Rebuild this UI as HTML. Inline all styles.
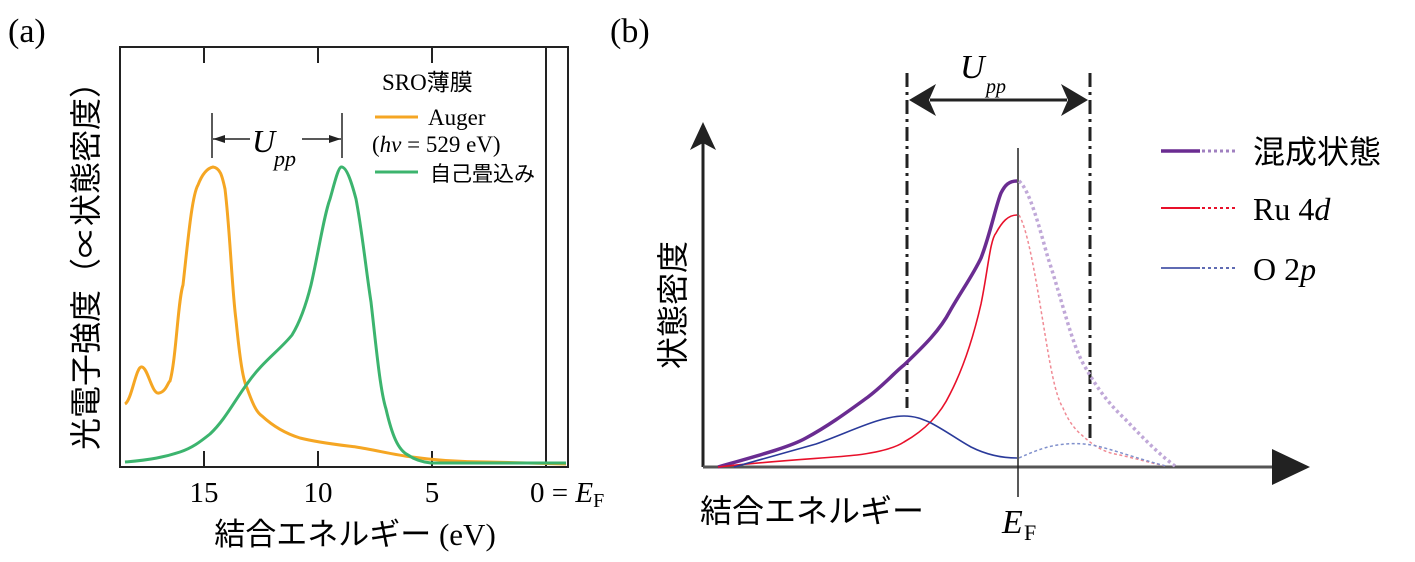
<!DOCTYPE html>
<html><head><meta charset="utf-8"><style>
body{margin:0;background:#fff;}
svg{display:block;font-family:"Liberation Serif","Noto Serif CJK SC",serif;}
.jp{font-family:"Liberation Sans","Noto Sans CJK JP",sans-serif;}
</style></head><body>
<svg width="1415" height="562" viewBox="0 0 1415 562" xmlns="http://www.w3.org/2000/svg">
<defs>
<marker id="ah" markerWidth="12" markerHeight="8" refX="12" refY="4" orient="auto" markerUnits="userSpaceOnUse"><path d="M0,0 L12,4 L0,8 z" fill="#222"/></marker>
</defs>
<!-- Panel a -->
<text x="8" y="42" font-size="34">(a)</text>
<rect x="120" y="47" width="448" height="420" fill="none" stroke="#222" stroke-width="2"/>
<g stroke="#222" stroke-width="2">
<line x1="204" y1="47" x2="204" y2="63"/><line x1="204" y1="451" x2="204" y2="467"/>
<line x1="318" y1="47" x2="318" y2="63"/><line x1="318" y1="451" x2="318" y2="467"/>
<line x1="432" y1="47" x2="432" y2="63"/><line x1="432" y1="451" x2="432" y2="467"/>
<line x1="546" y1="47" x2="546" y2="467"/>
</g>
<g font-size="29" text-anchor="middle">
<text x="204" y="502">15</text><text x="318" y="502">10</text><text x="432" y="502">5</text>
</g>
<text x="530" y="502" font-size="29">0 = <tspan font-style="italic">E</tspan><tspan font-size="20" dy="5">F</tspan></text>
<text x="355" y="545" font-size="31" text-anchor="middle"><tspan class="jp">結合エネルギー</tspan> (eV)</text>
<text class="jp" transform="translate(97,258) rotate(-90)" font-size="32" text-anchor="middle">光電子強度（∝状態密度）</text>
<path d="M125,404 C132,400 136,365 142,367 C148,368 152,395 159,393 C166,392 168,382 170,381 C176,360 178,300 183,285 C188,240 192,195 198,185 C203,172 208,168 213,167 C220,168 222,175 225,189 C230,230 232,290 236,320 C240,360 243,380 247,388 C252,402 256,412 262,416 C275,428 287,434 300,438 C320,443 340,445 356,447 C375,450 395,455 412,457 C440,461 465,462 487,462 L566,464" fill="none" stroke="#f5a623" stroke-width="3"/>
<path d="M125,462 C150,460 165,457 180,452 C192,448 200,442 210,434 C225,420 235,400 247,384 C262,362 280,350 292,335 C300,322 306,305 311,285 C318,255 324,215 330,199 C334,185 338,168 341,167 C346,166 351,180 356,199 C362,230 366,270 371,302 C376,345 380,390 386,409 C392,435 398,450 408,455 C415,460 422,462 431,463 L566,463" fill="none" stroke="#3cb46e" stroke-width="3"/>
<g stroke="#222" stroke-width="1.5">
<line x1="212" y1="113" x2="212" y2="158"/><line x1="342" y1="113" x2="342" y2="158"/>
<line x1="250" y1="139" x2="213" y2="139" marker-end="url(#ah)"/>
<line x1="302" y1="139" x2="341" y2="139" marker-end="url(#ah)"/>
</g>
<text x="252" y="152" font-size="32" font-style="italic">U</text><text x="274" y="166" font-size="22" font-style="italic">pp</text>
<text x="382" y="90" font-size="23"><tspan>SRO</tspan><tspan class="jp">薄膜</tspan></text>
<line x1="375" y1="117" x2="418" y2="117" stroke="#f5a623" stroke-width="3"/>
<text x="428" y="125" font-size="23">Auger</text>
<text x="372" y="152" font-size="23">(<tspan font-style="italic">hν</tspan> = 529 eV)</text>
<line x1="375" y1="172" x2="418" y2="172" stroke="#3cb46e" stroke-width="3"/>
<text class="jp" x="430" y="181" font-size="21">自己畳込み</text>
<!-- Panel b -->
<text x="610" y="42" font-size="34">(b)</text>
<line x1="703" y1="467" x2="703" y2="140" stroke="#222" stroke-width="3"/>
<path d="M703,122 L690,150 L703,143 L716,150 z" fill="#222"/>
<line x1="703" y1="467" x2="1285" y2="467" stroke="#555" stroke-width="3"/>
<path d="M1310,467 L1272,449 L1272,485 z" fill="#222"/>
<line x1="1018" y1="148" x2="1018" y2="497" stroke="#222" stroke-width="1.5"/>
<g stroke="#222" stroke-width="3" stroke-dasharray="14,5,3,5">
<line x1="907" y1="73" x2="907" y2="408"/><line x1="1090" y1="73" x2="1090" y2="440"/>
</g>
<line x1="930" y1="100" x2="1067" y2="100" stroke="#222" stroke-width="3"/>
<path d="M909,100 L936,84 L929,100 L936,116 z" fill="#222"/>
<path d="M1088,100 L1061,84 L1068,100 L1061,116 z" fill="#222"/>
<text x="960" y="78" font-size="34" font-style="italic">U</text><text x="986" y="93" font-size="20" font-style="italic">pp</text>
<path d="M718,467 C760,455 790,447 806,438 C830,425 850,410 868,397 C885,384 895,372 904,365 C925,345 940,330 950,311 C962,290 973,275 981,258 C990,235 996,205 1001,193 C1005,185 1009,181 1017,181" fill="none" stroke="#6a2c91" stroke-width="3.5"/>
<path d="M1019,181 C1030,190 1040,230 1048,258 C1062,300 1072,345 1084,365 C1098,390 1110,405 1125,419 C1145,440 1160,455 1175,466" fill="none" stroke="#c0a8d8" stroke-width="3.5" stroke-dasharray="3,3"/>
<path d="M718,467 C780,460 830,458 857,455 C880,452 895,448 904,442 C925,430 940,415 950,394 C965,365 975,330 981,304 C988,270 990,240 996,233 C1002,222 1008,215 1017,215" fill="none" stroke="#e8102a" stroke-width="1.6"/>
<path d="M1019,215 C1028,230 1036,280 1043,322 C1050,365 1055,395 1063,408 C1070,425 1078,432 1084,437 C1095,447 1105,452 1115,454 C1135,458 1150,463 1166,466" fill="none" stroke="#f08a94" stroke-width="1.5" stroke-dasharray="3,2.5"/>
<path d="M734,467 C770,457 795,450 816,444 C850,432 880,416 904,416 C915,416 922,419 929,422 C945,430 958,440 971,447 C985,454 1000,458 1017,458" fill="none" stroke="#2a3a9a" stroke-width="1.6"/>
<path d="M1019,458 C1030,453 1040,449 1048,447 C1060,444 1072,443 1084,444 C1095,445 1105,448 1115,451 C1135,457 1150,462 1166,466" fill="none" stroke="#8090cc" stroke-width="1.5" stroke-dasharray="3,2.5"/>
<text x="1002" y="533" font-size="34" font-style="italic">E</text><text x="1024" y="540" font-size="22">F</text>
<text class="jp" x="700" y="522" font-size="32">結合エネルギー</text>
<text class="jp" transform="translate(684,305) rotate(-90)" font-size="32" text-anchor="middle">状態密度</text>
<line x1="1161" y1="151" x2="1200" y2="151" stroke="#6a2c91" stroke-width="3.5"/>
<line x1="1202" y1="151" x2="1238" y2="151" stroke="#a080c0" stroke-width="3" stroke-dasharray="3,3"/>
<text class="jp" x="1253" y="163" font-size="32">混成状態</text>
<line x1="1161" y1="208" x2="1200" y2="208" stroke="#e8102a" stroke-width="2"/>
<line x1="1202" y1="208" x2="1238" y2="208" stroke="#e8102a" stroke-width="2" stroke-dasharray="3,3"/>
<text x="1253" y="220" font-size="32">Ru 4<tspan font-style="italic">d</tspan></text>
<line x1="1161" y1="268" x2="1200" y2="268" stroke="#2a3a9a" stroke-width="1.6"/>
<line x1="1202" y1="268" x2="1238" y2="268" stroke="#2a3a9a" stroke-width="1.6" stroke-dasharray="3,3"/>
<text x="1253" y="280" font-size="32">O 2<tspan font-style="italic">p</tspan></text>
</svg>
</body></html>
